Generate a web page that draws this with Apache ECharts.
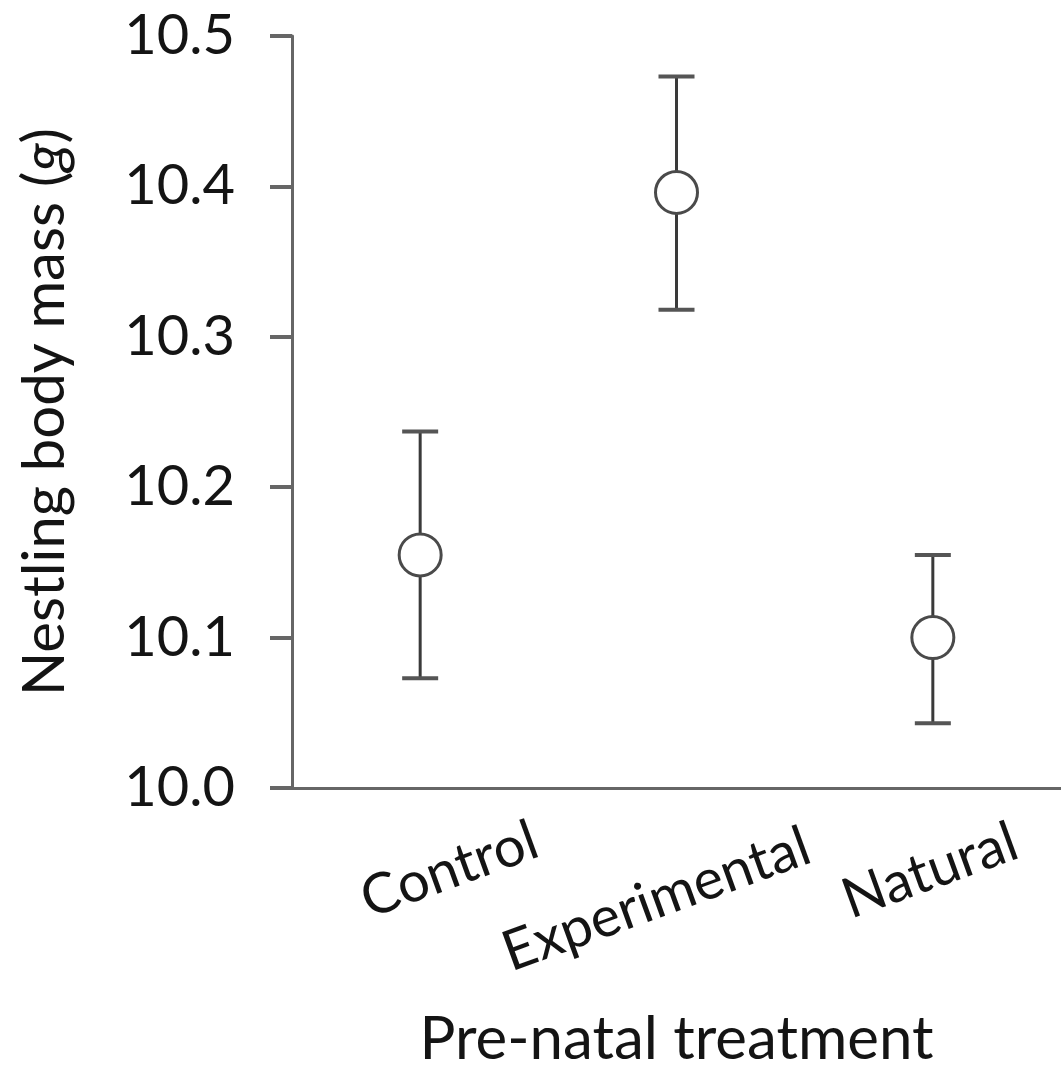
<!DOCTYPE html>
<html>
<head>
<meta charset="utf-8">
<script src="https://cdn.jsdelivr.net/npm/echarts@6/dist/echarts.min.js"></script>
<style>
html,body{margin:0;padding:0;background:#fff;}
#chart{width:1061px;height:1077px;}
</style>
</head>
<body>
<div id="chart"></div>
<script>
var categories = ['Control', 'Experimental', 'Natural'];
var means = [10.155, 10.396, 10.100];
var upper = [10.237, 10.473, 10.155];
var lower = [10.073, 10.318, 10.043];
var yTicks = [10.0, 10.1, 10.2, 10.3, 10.4, 10.5];

var FONT = 'Lato';
var TEXT = '#141414';
var AXIS = '#666666';

var errData = categories.map(function (c, i) { return [i, lower[i], upper[i]]; });
var meanData = categories.map(function (c, i) { return [i, means[i]]; });

var chart = echarts.init(document.getElementById('chart'));
chart.setOption({
  animation: false,
  backgroundColor: '#ffffff',
  grid: { left: 292, right: 0, top: 36, bottom: 289, containLabel: false, outerBoundsMode: 'none' },
  xAxis: {
    type: 'category',
    data: categories,
    boundaryGap: true,
    axisLine: { lineStyle: { color: AXIS, width: 3 } },
    axisTick: { show: false },
    axisLabel: {
      rotate: 20,
      align: 'center',
      verticalAlign: 'middle',
      margin: 82,
      fontFamily: FONT,
      fontSize: 56,
      color: TEXT,
      hideOverlap: false,
      interval: 0,
      formatter: function (v, i) { return '{c' + i + '|' + v + '}'; },
      rich: {
        c0: { fontFamily: FONT, fontSize: 56, color: TEXT, padding: [20, 0, 0, 55] },
        c1: { fontFamily: FONT, fontSize: 56, color: TEXT, padding: [42, 58, 0, 0] },
        c2: { fontFamily: FONT, fontSize: 56, color: TEXT, padding: [0, 6, 0, 0] }
      }
    },
    name: 'Pre-natal treatment',
    nameLocation: 'middle',
    nameGap: 222,
    nameTextStyle: { fontFamily: FONT, fontSize: 60, color: TEXT }
  },
  yAxis: {
    type: 'value',
    min: yTicks[0],
    max: yTicks[yTicks.length - 1],
    interval: 0.1,
    splitLine: { show: false },
    axisLine: { show: true, lineStyle: { color: AXIS, width: 3 } },
    axisTick: { show: true, length: 22, lineStyle: { color: AXIS, width: 4 } },
    axisLabel: {
      margin: 57,
      fontFamily: FONT,
      fontSize: 56,
      color: TEXT,
      formatter: function (v) { return v.toFixed(1); }
    },
    name: '{n|Nestling body mass (}{i|g}{n|)}',
    nameLocation: 'middle',
    nameGap: 218,
    nameTextStyle: {
      rich: {
        n: { fontFamily: FONT, fontSize: 58, color: TEXT },
        i: { fontFamily: FONT, fontSize: 58, color: TEXT, fontStyle: 'italic' }
      }
    }
  },
  series: [
    {
      type: 'custom',
      data: errData,
      z: 2,
      renderItem: function (params, api) {
        var x = api.value(0);
        var lo = api.coord([x, api.value(1)]);
        var hi = api.coord([x, api.value(2)]);
        var hw = 18;
        var style = { stroke: '#3a3a3a', lineWidth: 3 };
        return {
          type: 'group',
          children: [
            { type: 'line', shape: { x1: hi[0], y1: hi[1], x2: lo[0], y2: lo[1] }, style: style },
            { type: 'line', shape: { x1: hi[0] - hw, y1: hi[1], x2: hi[0] + hw, y2: hi[1] }, style: { stroke: '#555', lineWidth: 4 } },
            { type: 'line', shape: { x1: lo[0] - hw, y1: lo[1], x2: lo[0] + hw, y2: lo[1] }, style: { stroke: '#555', lineWidth: 4 } }
          ]
        };
      }
    },
    {
      type: 'scatter',
      data: meanData,
      z: 3,
      symbol: 'circle',
      symbolSize: 42,
      itemStyle: { color: '#ffffff', borderColor: '#4a4a4a', borderWidth: 3, opacity: 1 }
    }
  ]
});
</script>
</body>
</html>
